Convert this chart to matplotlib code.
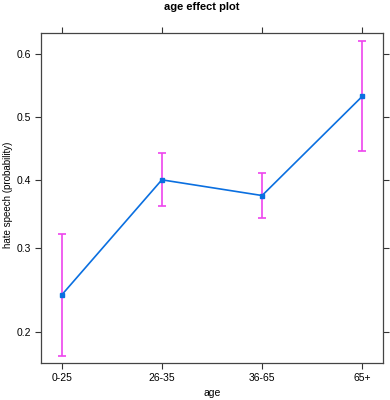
import numpy as np
import matplotlib
matplotlib.use("Agg")
import matplotlib.pyplot as plt
from matplotlib.ticker import FixedLocator, FixedFormatter, NullLocator

plt.rcParams['font.family'] = ['Liberation Sans', 'DejaVu Sans']

# data
ages = ['0-25', '26-35', '36-65', '65+']
prob = [0.241, 0.400, 0.376, 0.533]
lower = [0.177, 0.361, 0.343, 0.445]
upper = [0.320, 0.442, 0.411, 0.620]
yticks = [0.2, 0.3, 0.4, 0.5, 0.6]

fig = plt.figure(figsize=(3.9, 4.0), dpi=100)
ax = fig.add_axes([0.104, 0.092, 0.879, 0.826])

x = np.arange(len(ages))
p = np.array(prob)
err = [p - np.array(lower), np.array(upper) - p]

ax.errorbar(x, p, yerr=err, fmt='none', ecolor='#ee44ee', elinewidth=1.2,
            capsize=2.6, capthick=1.2, zorder=2)
ax.plot(x, p, color='#0a6fe0', lw=1.2, marker='s', ms=3.2, zorder=3)

ax.set_yscale('logit')
ax.set_ylim(0.170, 0.632)
ax.set_xlim(-0.21, 3.21)
ax.yaxis.set_major_locator(FixedLocator(yticks))
ax.yaxis.set_major_formatter(FixedFormatter([str(t) for t in yticks]))
ax.yaxis.set_minor_locator(NullLocator())
ax.set_xticks(x)
ax.set_xticklabels(ages)

ax.tick_params(axis='both', direction='out', length=4, width=0.8, color='#333333',
               labelsize=7.5, top=True, right=True, pad=3)
for s in ax.spines.values():
    s.set_color('#444444')
    s.set_linewidth(0.9)

ax.set_xlabel('age', fontsize=7.5, labelpad=4)
ax.set_ylabel('hate speech (probability)', fontsize=7)
ax.yaxis.set_label_coords(-0.079, 0.51)
fig.text(0.517, 0.983, 'age effect plot', fontsize=8, fontweight='bold',
         ha='center', va='center')

fig.savefig('out.png', dpi=100)
